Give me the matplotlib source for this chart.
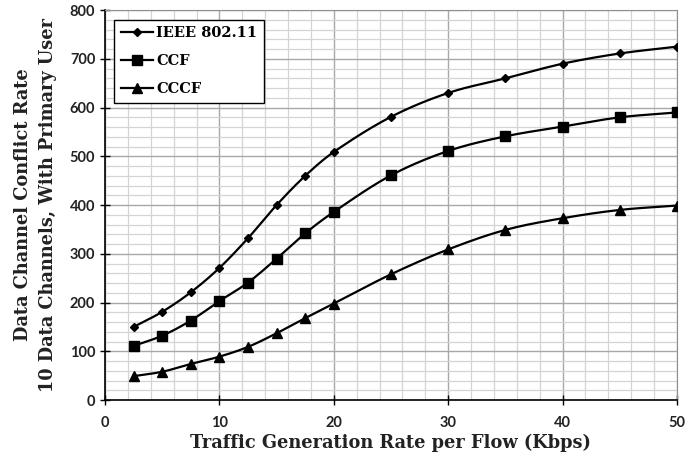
import numpy as np
import matplotlib
matplotlib.use("Agg")
import matplotlib.pyplot as plt
from matplotlib.ticker import MultipleLocator

# traffic generation rate per flow (Kbps)
rates = [2.5, 5, 7.5, 10, 12.5, 15, 17.5, 20, 25, 30, 35, 40, 45, 50]

# conflict rate
ieee_80211 = [150, 181, 221, 271, 332, 400, 460, 509, 581, 630, 660, 690, 711, 725]
ccf = [111, 132, 163, 203, 241, 290, 342, 386, 461, 511, 541, 561, 580, 590]
cccf = [49, 58, 74, 89, 109, 137, 168, 198, 258, 309, 349, 373, 390, 399]

series_names = ["IEEE 802.11", "CCF", "CCCF"]
markers = ["D", "s", "^"]
marker_sizes = [4, 6.5, 7.5]


def smooth(x, y, steps=25):
    """Cubic Hermite curve through the points (smoothed line look)."""
    x = np.asarray(x, float)
    y = np.asarray(y, float)
    slopes = np.empty_like(y)
    slopes[1:-1] = (y[2:] - y[:-2]) / (x[2:] - x[:-2])
    slopes[0] = (y[1] - y[0]) / (x[1] - x[0])
    slopes[-1] = (y[-1] - y[-2]) / (x[-1] - x[-2])
    t = np.linspace(0, 1, steps)
    h00 = 2 * t ** 3 - 3 * t ** 2 + 1
    h10 = t ** 3 - 2 * t ** 2 + t
    h01 = -2 * t ** 3 + 3 * t ** 2
    h11 = t ** 3 - t ** 2
    xs, ys = [], []
    for i in range(len(x) - 1):
        h = x[i + 1] - x[i]
        xs.extend(x[i] + h * t)
        ys.extend(h00 * y[i] + h10 * h * slopes[i] + h01 * y[i + 1] + h11 * h * slopes[i + 1])
    return xs, ys


fig = plt.figure(figsize=(6.85, 4.59), dpi=100)
ax = fig.add_axes([0.1533, 0.1285, 0.835, 0.8495])

for name, vals, m, ms in zip(series_names, [ieee_80211, ccf, cccf], markers, marker_sizes):
    sx, sy = smooth(rates, vals)
    ax.plot(sx, sy, color="black", lw=1.6, zorder=3)
    ax.plot(rates, vals, linestyle="none", marker=m, ms=ms, color="black", zorder=4)
    # legend proxy
    ax.plot([], [], color="black", lw=1.6, marker=m, ms=ms, label=name)

ax.set_xlim(0, 50)
ax.set_ylim(0, 800)
ax.xaxis.set_major_locator(MultipleLocator(10))
ax.xaxis.set_minor_locator(MultipleLocator(2))
ax.yaxis.set_major_locator(MultipleLocator(100))
ax.yaxis.set_minor_locator(MultipleLocator(20))
ax.grid(which="major", color="#a8a8a8", lw=1.0)
ax.grid(which="minor", color="#d4d4d4", lw=0.9)
ax.set_axisbelow(True)

for side in ["top", "right"]:
    ax.spines[side].set_color("#909090")
ax.spines["left"].set_color("black")
ax.spines["bottom"].set_color("black")
ax.spines["left"].set_linewidth(1.2)
ax.spines["bottom"].set_linewidth(1.2)
ax.tick_params(which="major", direction="inout", length=7, width=1.0)
ax.tick_params(which="minor", length=0)
ax.tick_params(axis="x", which="major", pad=8)

for lbl in ax.get_xticklabels() + ax.get_yticklabels():
    lbl.set_fontfamily("Lato")
    lbl.set_fontweight("bold")
    lbl.set_fontsize(10.5)
    lbl.set_color("#222222")

ax.set_xlabel("Traffic Generation Rate per Flow (Kbps)", family="DejaVu Serif",
              fontweight="bold", fontsize=12.8, color="#222222", labelpad=3)
ax.set_ylabel("Data Channel Conflict Rate\n10 Data Channels, With Primary User",
              family="DejaVu Serif", fontweight="bold", fontsize=12.8,
              color="#222222", labelpad=9, linespacing=1.5)

leg = ax.legend(loc="upper left", bbox_to_anchor=(0.016, 0.975), fancybox=False,
                edgecolor="black", framealpha=1, handlelength=2.2,
                borderaxespad=0, borderpad=0.45, labelspacing=0.95, handletextpad=0.25,
                prop={"family": "DejaVu Serif", "weight": "bold", "size": 10.5})
leg.get_frame().set_linewidth(1.0)

fig.savefig("out.png", dpi=100)
